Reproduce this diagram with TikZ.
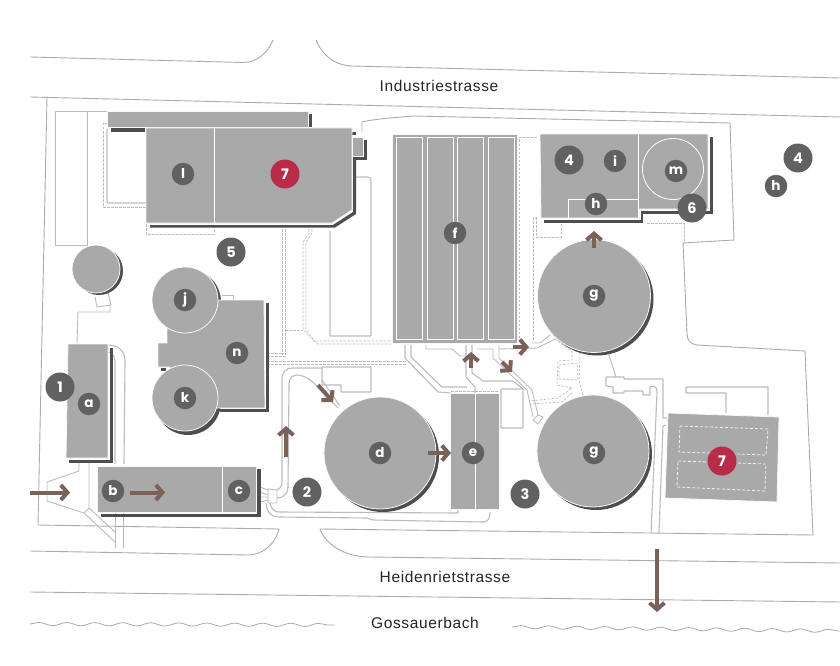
\documentclass[tikz,border=0pt]{standalone}
\usepackage{fontspec}
\setmainfont{Liberation Sans}
\newfontfamily\badgefont{Poppins}
\usetikzlibrary{arrows.meta,decorations.pathmorphing}
\definecolor{bgrey}{HTML}{A9A9A9}
\definecolor{shadow}{HTML}{4D4E50}
\definecolor{badge}{HTML}{616161}
\definecolor{redb}{HTML}{B92C49}
\definecolor{flow}{HTML}{7A625B}
\definecolor{site}{HTML}{ABABAB}
\definecolor{pipe}{HTML}{BCBCBC}
\tikzset{
  x=1pt,y=-1pt,
  siteline/.style={draw=site,line width=0.9pt,line join=miter},
  pipeline/.style={draw=pipe,line width=1.1pt,rounded corners=0.5pt},
  thinpipe/.style={draw=pipe,line width=0.9pt},
  dashpipe/.style={draw=pipe,line width=0.7pt,dash pattern=on 2.5pt off 1.5pt},
  dashwhite/.style={draw=white!85!bgrey,line width=0.8pt,dash pattern=on 3pt off 2pt},
  bldg/.style={fill=bgrey,draw=white!92!bgrey,line width=0.8pt,line join=miter},
  shad/.style={fill=shadow,draw=none},
  inner/.style={draw=white,line width=0.8pt},
  flowarrow/.style={draw=flow,line width=4pt,-{Straight Barb[length=6.5pt,width=15pt,line width=4pt]}},
  wave/.style={draw=site,line width=0.8pt,decorate,decoration={snake,segment length=28pt,amplitude=1.6pt}},
  big/.style={circle,fill=badge,minimum size=29pt,inner sep=0pt,text=white,font=\badgefont\fontsize{14.5}{16}\selectfont\bfseries},
  small/.style={circle,fill=badge,minimum size=22.5pt,inner sep=0pt,text=white,font=\badgefont\fontsize{13.5}{15}\selectfont\bfseries},
  bigred/.style={big,fill=redb},
  street/.style={inner sep=0pt,text=black!85,font=\addfontfeatures{LetterSpace=4}\fontsize{15.5}{18}\selectfont},
}
\begin{document}
\begin{tikzpicture}
\useasboundingbox (0,0) rectangle (840,666);
\fill[white] (0,0) rectangle (840,666);
% roads
\draw[siteline] (30,57) -- (243,62.5) .. controls (258,62.5) and (268,52) .. (273,40);
\draw[siteline] (316,40) .. controls (322,55) and (335,66) .. (353,66) -- (840,78);
\draw[siteline] (30,97) -- (840,117);
\draw[siteline] (47,97) -- (38,525) -- (279,529) .. controls (275,545) and (262,555) .. (248,555) -- (30,551);
\draw[siteline] (320,529) .. controls (326,545) and (345,557) .. (370,557) -- (840,563);
\draw[siteline] (320,529) -- (813,535) -- (805,351) -- (697,345) .. controls (690,344) and (687,340) .. (687,333) -- (683,243) -- (734,240) -- (730,123) -- (413,116) .. controls (390,118) and (375,119) .. (362,122) -- (362,132);
\draw[siteline] (30,592) -- (840,602);
\draw[wave] (30,624) -- (334,625);
\draw[wave] (512,627) -- (840,631);
% left yard
\draw[thinpipe] (107,111) -- (55,111) -- (55,245) -- (87,245) -- (87,111);
\draw[pipeline] (107,129) -- (107,203) -- (146,203);
\draw[dashpipe] (107,123) -- (103,123) -- (103,207) -- (146,207);
\draw[dashpipe] (146,224) -- (146,234) -- (214,234) -- (214,224);
% dashed double lines
\foreach \d in {0,3}{
  \draw[dashpipe] (282+\d,225) -- (282+\d,355);
  \draw[dashpipe] (267,353+\d) -- (284+\d,353+\d);
  \draw[dashpipe] (267,361+\d) -- (407,361+\d);
  \draw[dashpipe] (309+\d,225) -- (309+\d,233) -- (303+\d,242) -- (303+\d,330) -- (314+\d,341+\d) -- (392,341+\d);
}
\draw[dashpipe] (285,330) -- (303,330);
\draw[pipeline] (353,177) -- (367,177) .. controls (370,177) and (371,178) .. (371,181) -- (371,336) -- (330,336) -- (330,231);
% left circle pipes
\draw[thinpipe] (95,297) -- (97,307) -- (111,305) -- (108,292);
\draw[thinpipe] (110,305) -- (110,312) -- (78,312) -- (77,343);
% a pipes
\draw[pipeline] (109,345) .. controls (120,346) and (125,352) .. (125,362) -- (124,464);
\draw[pipeline] (109,352) .. controls (113,354) and (115,356) .. (115,362) -- (115,464);
% a to b inlet
\draw[thinpipe] (79,461) -- (79,471) -- (47,482) -- (47,501) -- (84,513) -- (115,542);
\draw[thinpipe] (89,461) -- (89,508) -- (115,532);
\draw[thinpipe] (84,513) -- (89,508);
\draw[thinpipe] (115,513) -- (115,548);
\draw[thinpipe] (123,513) -- (123,548);
% c to d pipes
\draw[thinpipe] (257,486) -- (268,490) (257,491) -- (268,495) (257,497) -- (268,497) (257,503) -- (268,500);
\draw[thinpipe] (268,489) -- (277,490) -- (277,503) -- (268,503) -- cycle;
\draw[pipeline] (277,490) .. controls (280,489) and (282,486) .. (282,482) -- (282,380) .. controls (282,372) and (286,368) .. (293,368) -- (322,368);
\draw[pipeline] (277,498) .. controls (284,498) and (288,493) .. (288,487) -- (289,384) .. controls (289,378) and (293,375) .. (298,375) .. controls (304,376) and (308,378) .. (313,382) -- (338,408);
\draw[pipeline] (322,380) -- (340,406);
\draw[pipeline] (270,503) .. controls (271,509) and (274,512) .. (280,512) -- (458,513) -- (458,510);
\draw[pipeline] (266,503) .. controls (267,512) and (270,517) .. (280,517) -- (367,518) -- (373,520) -- (483,522) .. controls (488,522) and (490,518) .. (490,512);
\draw[pipeline] (322,367) -- (371,367) -- (371,392) -- (341,392) -- (341,385) -- (322,385) -- cycle;
% f to e, g pipes
\draw[pipeline] (405,345) -- (405,358) -- (438,392) -- (451,393);
\draw[pipeline] (411,345) -- (411,357) -- (442,387) -- (467,387);
\draw[thinpipe] (426,345) -- (426,349) -- (452,349) -- (460,356) -- (470,356);
\draw[pipeline] (466,345) -- (466,377) -- (475,387) -- (475,393);
\draw[pipeline] (472,345) -- (472,373) -- (483,381) -- (513,381) -- (523,389);
\draw[thinpipe] (477,349) -- (493,349) -- (493,358) -- (527,390) -- (533,417);
\draw[thinpipe] (499,345) -- (499,358) -- (532,390) -- (538,415);
\draw[thinpipe] (499,349) -- (537,348) -- (555,339);
\draw[thinpipe] (532,343) -- (540,343) -- (550,335);
\draw[thinpipe] (533,420) -- (538,415) -- (543,417) -- (538,424) -- cycle;
\draw[pipeline] (501,389) -- (523,389) -- (523,428) -- (501,428) -- cycle;
% dashed right middle
\draw[dashpipe] (519,342) -- (519,137) -- (538,137);
\draw[dashpipe] (537,217) -- (533,217) -- (533,340);
\draw[dashpipe] (536,217) -- (536,237) -- (561,237) -- (561,220);
\draw[dashpipe] (647,223) -- (684,223) -- (684,241);
\draw[dashpipe] (559,365) -- (577,363) -- (578,380) -- (559,379) -- cycle;
\draw[dashpipe] (555,339) -- (572,352) -- (572,360) -- (558,361) -- (557,385) -- (572,388) -- (558,398) -- (530,401);
\draw[dashpipe] (572,393) -- (562,402) -- (530,404);
\draw[dashpipe] (580,353) -- (579,380) -- (583,395);
\draw[dashpipe] (451,391) -- (499,391);
% g2 utility
\draw[thinpipe] (609,355) -- (616,377);
\draw[pipeline] (606,377) -- (624,377) -- (624,379) -- (663,379) -- (663,418) -- (667,418);
\draw[pipeline] (606,377) -- (606,386) -- (613,387) -- (613,393) -- (624,393) -- (624,391) -- (643,391) -- (643,395) -- (650,395) -- (650,387) -- (654,386) .. controls (656,387) and (657,389) .. (657,392) -- (651,533);
\draw[pipeline] (666,425) -- (663,426) -- (659,533);
\draw[pipeline] (768,415) -- (768,387) -- (686,387) -- (686,393) -- (726,393) -- (726,413);
% building shadows
\fill[shad] (309,114) rectangle (312,127);
\fill[shad] (111,128) rectangle (145,132);
\fill[shad] (150,225) -- (333,225) -- (353,212) -- (353,159) -- (356,159) -- (356,214) -- (335,227.5) -- (150,227.5) -- cycle;
\fill[shad] (364,140) rectangle (367,160);
\fill[shad] (353,157) rectangle (367,160);
\fill[shad] (352,132) rectangle (356,135);
\fill[shad] (99,271) circle[radius=24];
\fill[shad] (110,348) rectangle (113,463);
\fill[shad] (69,460) rectangle (113,463);
\fill[shad] (101,513.5) rectangle (261,517);
\fill[shad] (257,469) rectangle (261,517);
\fill[shad] (266,303) rectangle (269,412);
\fill[shad] (220,409) rectangle (269,412);
\fill[shad] (161,368) rectangle (166,371);
\fill[shad] (188,302) circle[radius=33];
\fill[shad] (188,402) circle[radius=33];
\fill[shad] (710,137) rectangle (713,214);
\fill[shad] (641,211) rectangle (713,214);
\fill[shad] (641,211) rectangle (643,223);
\fill[shad] (544,220) rectangle (643,223);
\fill[shad] (597,299) circle[radius=56.5];
\fill[shad] (596,454) circle[radius=56];
\fill[shad] (383,456) circle[radius=56];
% buildings
\path[bldg] (107,111) rectangle (308,127);
\path[bldg] (146,128) -- (352,128) -- (352,210) -- (332,223) -- (146,223) -- cycle;
\draw[inner] (214,128) -- (214,223);
\path[bldg] (352,137) rectangle (363,156);
\path[bldg] (96,269) circle[radius=24];
\path[bldg] (68,344) -- (108,344) -- (108,458) -- (66,458) -- cycle;
\path[bldg] (97.5,466) rectangle (256,512);
\draw[inner] (222,466) -- (222,512);
\draw[thinpipe] (222,295) -- (233,295) -- (233,300);
\path[bldg] (185,300) -- (264,300) -- (265,408) -- (185,408) -- (185,380) -- (170,370) -- (170,367) -- (158,367) -- (158,343) -- (167,343) -- (167,328) -- cycle;
\path[bldg] (185,300) circle[radius=33];
\path[bldg] (185,398) circle[radius=33];
\path[bldg] (392,134) rectangle (517,343);
\draw[inner] (396,137) rectangle (422,339);
\draw[inner] (427,137) rectangle (453,339);
\draw[inner] (457,137) rectangle (483,339);
\draw[inner] (488,137) rectangle (514,339);
\path[bldg] (540,134) -- (708,134) -- (708,209) -- (639,209) -- (639,218) -- (541,218) -- cycle;
\draw[inner] (638,134) -- (638,218) -- (568,218) -- (568,199) -- (638,199);
\draw[inner] (673,169) circle[radius=30.5];
\path[bldg] (594,296) circle[radius=56.5];
\path[bldg] (593,451) circle[radius=56];
\path[bldg] (380,453) circle[radius=56];
\path[bldg] (450,393) rectangle (499,509);
\draw[inner] (475,393) -- (475,509);
\path[bldg] (668,413) -- (779,417) -- (777,502) -- (665,498) -- cycle;
\draw[dashwhite] (680,426) -- (768,429) -- (766,455) -- (679,452) -- cycle;
\draw[dashwhite] (678,461) -- (766,464) -- (765,491) -- (677,487) -- cycle;
% flow arrows
\coordinate (a1s) at (30,492.5); \coordinate (a1e) at (70,492.5);
\coordinate (a2s) at (130,492.5); \coordinate (a2e) at (165,492.5);
\coordinate (a3s) at (286,457); \coordinate (a3e) at (286,426);
\coordinate (a4s) at (318,385); \coordinate (a4e) at (333,402);
\coordinate (a5s) at (428,453); \coordinate (a5e) at (451,453);
\coordinate (a6s) at (471,368); \coordinate (a6e) at (471,352);
\coordinate (a7s) at (502,362); \coordinate (a7e) at (512,372);
\coordinate (a8s) at (513,347); \coordinate (a8e) at (529,347);
\coordinate (a9s) at (594,248); \coordinate (a9e) at (594,231);
\coordinate (a10s) at (657,549); \coordinate (a10e) at (657,612);
\foreach \k in {1,...,10}{ \draw[flowarrow] (a\k s) -- (a\k e); }
% badges
\node[big] (n1) at (60,387) {1};
\node[big] (n2) at (307,492) {2};
\node[big] (n3) at (525,494) {3};
\node[big] (n4a) at (569,160) {4};
\node[big] (n4b) at (798,158) {4};
\node[big] (n5) at (231,252) {5};
\node[big] (n6) at (692,208) {6};
\node[bigred] (n7a) at (285,174) {7};
\node[bigred] (n7b) at (722,461) {7};
\node[small] (la) at (89,404) {a};
\node[small] (lb) at (113,491) {b};
\node[small] (lc) at (239,491) {c};
\node[small] (ld) at (380,453) {d};
\node[small] (le) at (473,453) {e};
\node[small] (lf) at (455,233) {f};
\node[small] (lg1) at (594,296) {g};
\node[small] (lg2) at (594,453) {g};
\node[small] (lh1) at (596,204) {h};
\node[small] (lh2) at (776,186) {h};
\node[small] (li) at (615,161) {i};
\node[small] (lj) at (185,300) {j};
\node[small] (lk) at (185,398) {k};
\node[small] (ll) at (183,174) {l};
\node[small] (lm) at (676,171) {m};
\node[small] (ln) at (237,353) {n};
% streets
\node[street] (s1) at (439,86) {Industriestrasse};
\node[street] (s2) at (445,577) {Heidenrietstrasse};
\node[street] (s3) at (425,623) {Gossauerbach};
\end{tikzpicture}
\end{document}
